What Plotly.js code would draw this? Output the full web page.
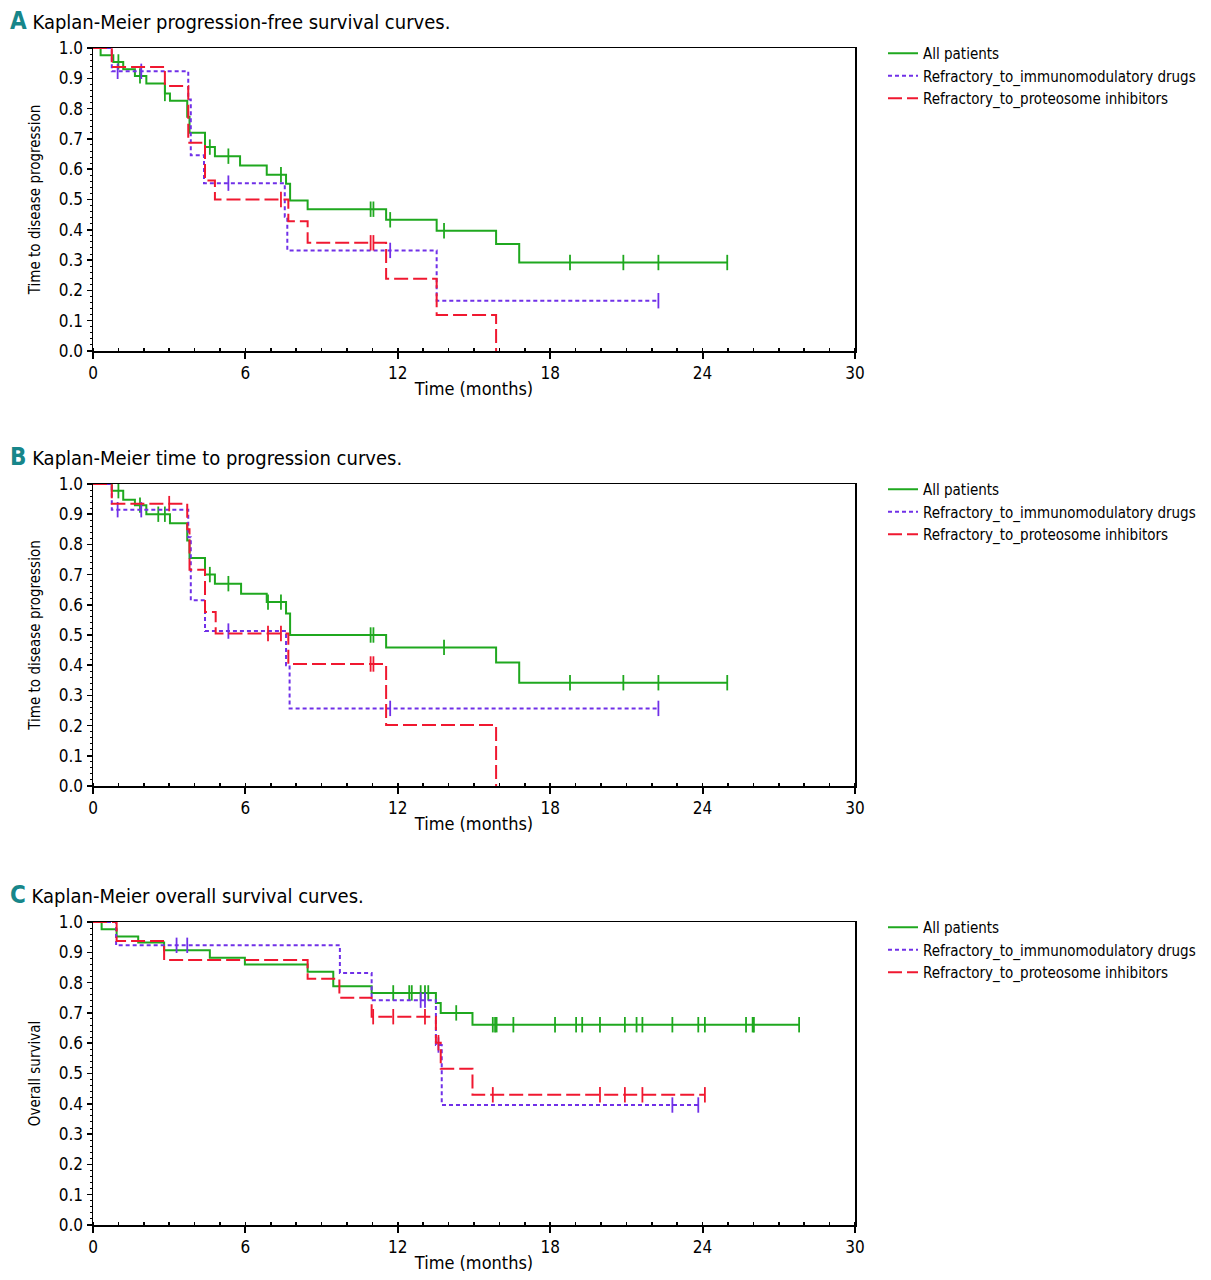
<!DOCTYPE html>
<html>
<head>
<meta charset="utf-8">
<script src="https://cdn.plot.ly/plotly-3.0.1.min.js"></script>
<style>html,body{margin:0;padding:0;background:#fff;}</style>
</head>
<body>
<div id="chart" style="width:1211px;height:1280px;"></div>
<script>
// ---------- Data (time in months, survival probability) ----------
const seriesNames = ["All patients", "Refractory_to_immunomodulatory drugs", "Refractory_to_proteosome inhibitors"];
const panelTitles = ["Kaplan-Meier progression-free survival curves.", "Kaplan-Meier time to progression curves.", "Kaplan-Meier overall survival curves."];
const panelLetters = ["A", "B", "C"];
const yTitles = ["Time to disease progression", "Time to disease progression", "Overall survival"];
const xTickVals = [0, 6, 12, 18, 24, 30];

// Panel A: progression-free survival
const A_all_t = [0, 0.3, 0.8, 1.19, 1.65, 2.1, 2.83, 3.03, 3.71, 3.8, 4.41, 4.8, 5.79, 6.84, 7.6, 7.76, 8.45, 11.54, 13.53, 15.87, 16.78, 24.97];
const A_all_s = [1, 0.976, 0.954, 0.93, 0.908, 0.883, 0.85, 0.826, 0.773, 0.72, 0.673, 0.643, 0.612, 0.582, 0.552, 0.497, 0.468, 0.433, 0.397, 0.353, 0.292, 0.292];
const A_all_c = [1.0, 1.85, 2.83, 4.6, 5.33, 7.4, 10.93, 11.04, 11.7, 13.82, 18.78, 20.88, 22.26, 24.97];
const A_imid_t = [0, 0.74, 3.75, 3.85, 4.37, 7.55, 7.65, 13.53, 22.26];
const A_imid_s = [1, 0.923, 0.83, 0.646, 0.554, 0.443, 0.332, 0.166, 0.166];
const A_imid_c = [0.97, 1.9, 5.33, 11.7, 22.26];
const A_pi_t = [0, 0.74, 2.83, 3.75, 4.41, 4.8, 7.69, 8.45, 11.54, 13.53, 15.87];
const A_pi_s = [1, 0.9375, 0.875, 0.6875, 0.5625, 0.5, 0.4286, 0.3571, 0.2381, 0.119, 0];
const A_pi_c = [7.4, 10.93, 11.04];

// Panel B: time to progression
const B_all_t = [0, 0.74, 1.19, 1.65, 2.1, 3.03, 3.71, 3.8, 4.41, 4.8, 5.83, 6.84, 7.6, 7.76, 11.54, 15.87, 16.78, 24.97];
const B_all_s = [1, 0.978, 0.948, 0.93, 0.90, 0.87, 0.813, 0.755, 0.70, 0.67, 0.637, 0.609, 0.571, 0.50, 0.459, 0.409, 0.342, 0.342];
const B_all_c = [1.0, 1.85, 2.57, 2.83, 4.6, 5.33, 6.89, 7.4, 10.93, 11.04, 13.82, 18.78, 20.88, 22.26, 24.97];
const B_imid_t = [0, 0.74, 3.75, 3.85, 4.41, 7.6, 7.74, 22.26];
const B_imid_s = [1, 0.915, 0.824, 0.615, 0.513, 0.40, 0.257, 0.257];
const B_imid_c = [0.97, 1.9, 5.33, 11.7, 22.26];
const B_pi_t = [0, 0.74, 3.71, 3.8, 4.41, 4.83, 7.69, 11.54, 15.87];
const B_pi_s = [1, 0.935, 0.85, 0.716, 0.576, 0.505, 0.404, 0.202, 0];
const B_pi_c = [3.0, 6.89, 7.4, 10.93, 11.04];

// Panel C: overall survival
const C_all_t = [0, 0.34, 0.93, 1.78, 2.8, 4.6, 5.98, 8.45, 9.46, 10.97, 13.5, 13.69, 14.94, 27.8];
const C_all_s = [1, 0.976, 0.952, 0.932, 0.907, 0.882, 0.86, 0.836, 0.788, 0.766, 0.733, 0.70, 0.661, 0.661];
const C_all_c = [11.82, 12.45, 12.55, 12.9, 13.07, 13.2, 14.3, 15.74, 15.83, 15.89, 16.55, 18.19, 19.02, 19.26, 19.96, 20.94, 21.40, 21.63, 22.81, 23.83, 24.09, 25.71, 25.97, 26.02, 27.8];
const C_imid_t = [0, 0.91, 9.72, 10.97, 13.5, 13.73, 23.83];
const C_imid_s = [1, 0.923, 0.832, 0.742, 0.594, 0.396, 0.396];
const C_imid_c = [3.29, 3.71, 12.9, 13.07, 13.6, 22.81, 23.83];
const C_pi_t = [0, 0.93, 2.8, 8.45, 9.7, 10.97, 13.5, 13.69, 14.94, 24.09];
const C_pi_s = [1, 0.9375, 0.875, 0.8125, 0.75, 0.6875, 0.6016, 0.5156, 0.4297, 0.4297];
const C_pi_c = [11.03, 11.82, 13.07, 13.6, 15.74, 19.96, 20.94, 21.63, 24.09];

// ---------- Styling ----------
const FONT = "Liberation Sans Narrow, DejaVu Sans Condensed, Arial Narrow, sans-serif";
const colors = ["#1fa81f", "#7030e8", "#f01830"];
const dashes = ["solid", "4px,3px", "14px,5px"];

const panels = [
  [[A_all_t, A_all_s, A_all_c], [A_imid_t, A_imid_s, A_imid_c], [A_pi_t, A_pi_s, A_pi_c]],
  [[B_all_t, B_all_s, B_all_c], [B_imid_t, B_imid_s, B_imid_c], [B_pi_t, B_pi_s, B_pi_c]],
  [[C_all_t, C_all_s, C_all_c], [C_imid_t, C_imid_s, C_imid_c], [C_pi_t, C_pi_s, C_pi_c]]
];

function stepAt(t, s, x) {
  let v = s[0];
  for (let i = 0; i < t.length; i++) { if (t[i] <= x + 1e-9) v = s[i]; }
  return v;
}

const W = 1211, H = 1280;
const plotTop = [48, 484, 922];
const plotBot = [351, 786, 1225];
const xl = 93, xr = 855;

const traces = [];
const layout = {
  width: W, height: H,
  margin: {l: 0, r: 0, t: 0, b: 0},
  paper_bgcolor: "#fff", plot_bgcolor: "#fff",
  font: {family: FONT, size: 15, color: "#000"},
  showlegend: true,
  annotations: []
};

panels.forEach((panel, p) => {
  const sfx = p === 0 ? "" : String(p + 1);
  const xa = "x" + sfx, ya = "y" + sfx;
  const legendId = "legend" + sfx;
  panel.forEach((ser, k) => {
    const [t, s, c] = ser;
    traces.push({
      x: t, y: s, xaxis: xa, yaxis: ya, type: "scatter", mode: "lines",
      line: {shape: "hv", color: colors[k], width: 2, dash: dashes[k]},
      name: seriesNames[k], legend: legendId, hoverinfo: "x+y+name"
    });
    traces.push({
      x: c, y: c.map(v => stepAt(t, s, v)), xaxis: xa, yaxis: ya, type: "scatter", mode: "markers",
      marker: {symbol: "line-ns-open", size: 11, color: colors[k], line: {color: colors[k], width: 1.8}},
      showlegend: false, legend: legendId, hoverinfo: "skip"
    });
  });
  const axisCommon = {
    showline: true, linecolor: "#000", linewidth: 1.5, mirror: true,
    showgrid: false, zeroline: false, ticks: "outside", tickcolor: "#000",
    tickfont: {family: FONT, size: 17, color: "#000"}
  };
  layout["xaxis" + sfx] = Object.assign({}, axisCommon, {
    domain: [xl / W, xr / W], anchor: ya, range: [0, 30],
    tickvals: xTickVals, ticklen: 6, tickwidth: 2,
    minor: {dtick: 1, tick0: 0, ticks: "inside", ticklen: 3, tickcolor: "#000", tickwidth: 1.5},
    title: {text: "Time (months)", font: {family: FONT, size: 18, color: "#000"}, standoff: 0}
  });
  layout["yaxis" + sfx] = Object.assign({}, axisCommon, {
    domain: [1 - plotBot[p] / H, 1 - plotTop[p] / H], anchor: xa, range: [0, 1.0],
    dtick: 0.1, tick0: 0, tickformat: ".1f", ticklen: 5, tickwidth: 1.5,
    minor: {dtick: 0.02, ticks: "outside", ticklen: 2, tickcolor: "#000", tickwidth: 1},
    title: {text: yTitles[p], font: {family: FONT, size: 15, color: "#000"}, standoff: 14}
  });
  layout[legendId] = {
    x: 883 / W, y: 1 - (plotTop[p] - 11) / H, xanchor: "left", yanchor: "top",
    bgcolor: "rgba(0,0,0,0)", borderwidth: 0, tracegroupgap: 0, itemwidth: 30,
    font: {family: FONT, size: 15, color: "#000"}
  };
  layout.annotations.push({
    xref: "paper", yref: "paper", x: 8 / W, y: 1 - (plotTop[p] - 27) / H,
    xanchor: "left", yanchor: "middle", showarrow: false,
    text: "<b><span style='color:#17868a;font-size:24px'>" + panelLetters[p] + "</span></b> " + panelTitles[p],
    font: {family: FONT, size: 20, color: "#000"}
  });
});

Plotly.newPlot("chart", traces, layout, {displayModeBar: false, staticPlot: true});
</script>
</body>
</html>
